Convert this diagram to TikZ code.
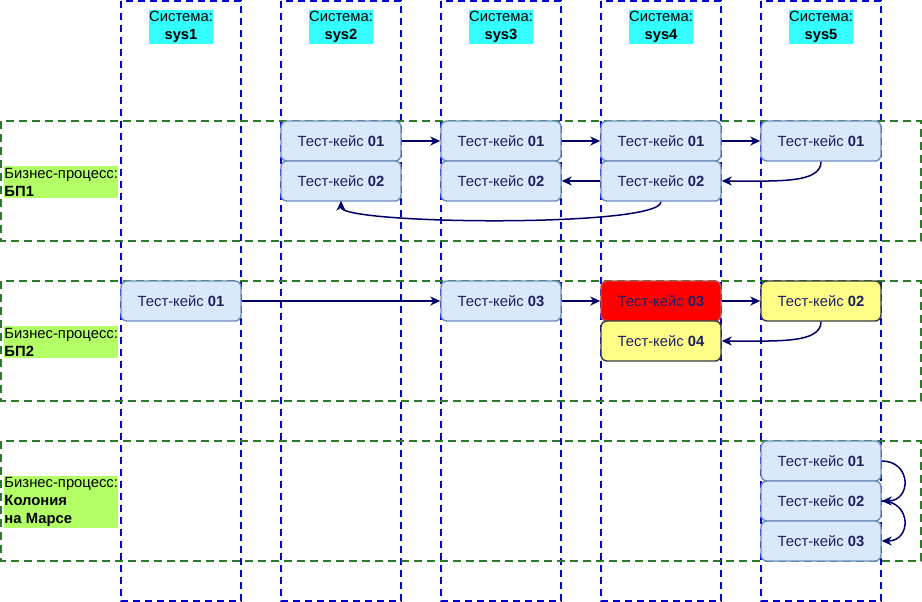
\documentclass[tikz,border=0pt]{standalone}
\usepackage{fontspec}
\setmainfont{Liberation Sans}
\usetikzlibrary{arrows.meta}
\definecolor{colblue}{HTML}{0000CC}
\definecolor{rowgreen}{HTML}{2A7A2A}
\definecolor{hdrcyan}{HTML}{33FFFF}
\definecolor{lblgreen}{HTML}{B3FF66}
\definecolor{tcfill}{HTML}{DAE8FC}
\definecolor{tcdraw}{HTML}{6C8EBF}
\definecolor{ylfill}{HTML}{FFFF88}
\definecolor{yldraw}{HTML}{36393D}
\definecolor{rdfill}{HTML}{FF0000}
\definecolor{rddraw}{HTML}{B85450}
\definecolor{tctext}{HTML}{1E1E64}
\definecolor{arrowc}{HTML}{000066}
\tikzset{
  colframe/.style={draw=colblue, line width=1.8pt, dash pattern=on 7pt off 5pt},
  rowframe/.style={draw=rowgreen, line width=1.8pt, dash pattern=on 8pt off 5pt},
  tcbox/.style={draw=tcdraw, fill=tcfill, line width=1.4pt, rounded corners=6pt,
    minimum width=120pt, minimum height=40pt, inner sep=0pt, text=tctext,
    font=\fontsize{14.8}{18}\selectfont},
  ylbox/.style={tcbox, draw=yldraw, fill=ylfill},
  rdbox/.style={tcbox, draw=rddraw, fill=rdfill},
  hdr/.style={fill=hdrcyan, inner xsep=0.5pt, inner ysep=1.2pt, align=center,
    font=\fontsize{14.8}{18}\selectfont},
  rowlbl/.style={fill=lblgreen, inner xsep=0.3pt, inner ysep=1.5pt, align=left, anchor=west,
    font=\fontsize{14.8}{18}\selectfont},
  flow/.style={draw=arrowc, line width=1.5pt, -{Stealth[length=10pt,width=9pt,inset=3pt]}}
}
\begin{document}
\begin{tikzpicture}[x=1pt,y=-1pt]
\useasboundingbox (0,0) rectangle (922,602);
% columns
\foreach \cx/\n in {121/1,281/2,441/3,601/4,761/5}{
  \draw[colframe] (\cx,1) rectangle ++(120,600);
}
% rows
\foreach \ry in {121,281,441}{
  \draw[rowframe] (1,\ry) rectangle ++(920,120);
}
% headers
\node[hdr] (h1) at (181,27) {Система:\\\textbf{sys1}};
\node[hdr] (h2) at (341,27) {Система:\\\textbf{sys2}};
\node[hdr] (h3) at (501,27) {Система:\\\textbf{sys3}};
\node[hdr] (h4) at (661,27) {Система:\\\textbf{sys4}};
\node[hdr] (h5) at (821,27) {Система:\\\textbf{sys5}};
% row labels
\node[rowlbl] (l1) at (4,182) {Бизнес-процесс:\\\textbf{БП1}};
\node[rowlbl] (l2) at (4,342) {Бизнес-процесс:\\\textbf{БП2}};
\node[rowlbl] (l3) at (4,502) {Бизнес-процесс:\\\textbf{Колония}\\\textbf{на Марсе}};
% row 1
\node[tcbox] (a21) at (341,141) {Тест-кейс \textbf{01}};
\node[tcbox] (a22) at (341,181) {Тест-кейс \textbf{02}};
\node[tcbox] (a31) at (501,141) {Тест-кейс \textbf{01}};
\node[tcbox] (a32) at (501,181) {Тест-кейс \textbf{02}};
\node[tcbox] (a41) at (661,141) {Тест-кейс \textbf{01}};
\node[tcbox] (a42) at (661,181) {Тест-кейс \textbf{02}};
\node[tcbox] (a51) at (821,141) {Тест-кейс \textbf{01}};
% row 2
\node[tcbox] (b11) at (181,301) {Тест-кейс \textbf{01}};
\node[tcbox] (b33) at (501,301) {Тест-кейс \textbf{03}};
\node[rdbox] (b43) at (661,301) {Тест-кейс \textbf{03}};
\node[ylbox] (b44) at (661,341) {Тест-кейс \textbf{04}};
\node[ylbox] (b52) at (821,301) {Тест-кейс \textbf{02}};
% row 3
\node[tcbox] (c51) at (821,461) {Тест-кейс \textbf{01}};
\node[tcbox] (c52) at (821,501) {Тест-кейс \textbf{02}};
\node[tcbox] (c53) at (821,541) {Тест-кейс \textbf{03}};
% connectors row 1
\draw[flow] (a21.east) -- (a31.west);
\draw[flow] (a31.east) -- (a41.west);
\draw[flow] (a41.east) -- (a51.west);
\draw[flow] (a51.south) .. controls +(0,22) and +(55,0) .. (a42.east);
\draw[flow] (a42.west) -- (a32.east);
\draw[flow] (a42.south) .. controls +(0,26) and +(0,24) .. ([yshift=1pt]a22.south);
% connectors row 2
\draw[flow] (b11.east) -- (b33.west);
\draw[flow] (b33.east) -- (b43.west);
\draw[flow] (b43.east) -- (b52.west);
\draw[flow] (b52.south) .. controls +(0,22) and +(55,0) .. (b44.east);
% connectors row 3
\draw[flow] (c51.east) .. controls +(30,0) and +(30,0) .. (c52.east);
\draw[flow] (c52.east) .. controls +(30,0) and +(30,0) .. (c53.east);
\end{tikzpicture}
\end{document}
